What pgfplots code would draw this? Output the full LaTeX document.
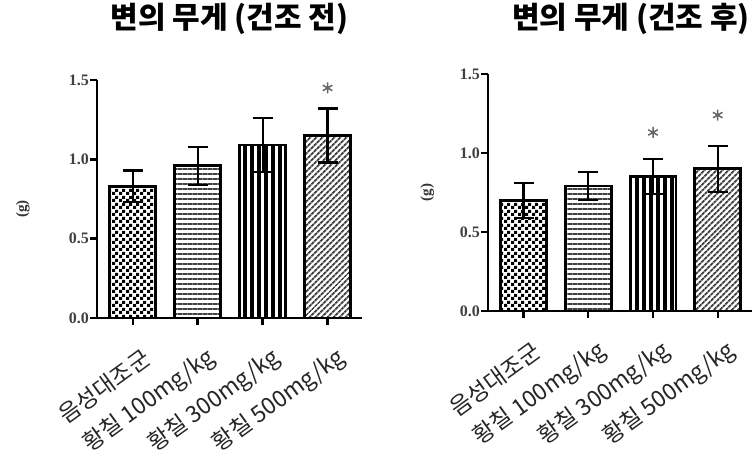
\documentclass[border=0pt]{standalone}
\usepackage{fontspec}
\setmainfont{Liberation Serif}
\newfontfamily\kr{Noto Sans CJK KR}
\usepackage{pgfplots}
\pgfplotsset{compat=1.18}
\usetikzlibrary{patterns,patterns.meta}
\pgfdeclarepatternformonly{mychecker}{\pgfqpoint{0pt}{0pt}}{\pgfqpoint{7pt}{7pt}}{\pgfqpoint{7pt}{7pt}}{%
 \pgfpathrectangle{\pgfqpoint{0pt}{0pt}}{\pgfqpoint{3.5pt}{3.5pt}}%
 \pgfpathrectangle{\pgfqpoint{3.5pt}{3.5pt}}{\pgfqpoint{3.5pt}{3.5pt}}%
 \pgfusepath{fill}}
\pgfplotsset{
  mybar/.style={ybar, bar width=46pt, bar shift=0pt, draw=black, line width=2.6pt,
    error bars/y dir=both, error bars/y explicit,
    error bars/error bar style={line width=2.2pt, black},
    error bars/error mark options={rotate=90, mark size=10pt, line width=2.2pt, black}},
  star/.style={only marks, mark=asterisk, mark size=5.5pt, color=black!60, mark options={line width=1.5pt}},
  myaxis/.style={
    scale only axis, anchor=south west,
    axis lines=left, axis line style={line width=2.8pt, -},
    ymin=0, ymax=1.5, xmin=-0.55, xmax=3.53,
    ytick={0,0.5,1,1.5}, xtick={0,1,2,3},
    tick align=outside, major tick length=7pt,
    every tick/.style={line width=2.4pt, black},
    yticklabel style={/pgf/number format/fixed, /pgf/number format/fixed zerofill, /pgf/number format/precision=1, font=\fontsize{16}{16}\selectfont\bfseries, text=black!75, inner sep=1pt},
    /pgf/number format/assume math mode=true,
    xticklabels={음성대조군, 황칠 100mg/kg, 황칠 300mg/kg, 황칠 500mg/kg},
    xticklabel style={rotate=36, anchor=east, font=\kr\fontsize{23}{23}\selectfont, text=black!85, inner sep=0pt, yshift=-33pt, xshift=-6pt},
    ylabel={(g)}, ylabel style={font=\fontsize{15}{15}\selectfont\bfseries, text=black!80, anchor=center},
    title style={font=\kr\bfseries\fontsize{30}{30}\selectfont, anchor=center},
    clip=false,
  }
}
\begin{document}
\begin{tikzpicture}[x=1pt,y=1pt]
\useasboundingbox (0,0) rectangle (752,454);
\begin{axis}[myaxis, at={(97pt,136pt)}, width=265pt, height=238pt, title={변의 무게 (건조 전)},
  title style={at={(axis description cs:0.5,1)}, yshift=55pt},
  ylabel style={at={(axis description cs:-0.28,0.5)}, xshift=-10pt}]
\addplot[mybar, pattern=mychecker] coordinates {(0,0.83) +- (0,0.10)};
\addplot[mybar, pattern={Lines[angle=0,distance=5pt,line width=2.2pt]}, pattern color=black!75] coordinates {(1,0.96) +- (0,0.12)};
\addplot[mybar, pattern={Lines[angle=90,distance=7pt,line width=4.6pt]}, pattern color=black] coordinates {(2,1.09) +- (0,0.17)};
\addplot[mybar, pattern={Lines[angle=45,distance=4pt,line width=2pt]}, pattern color=black!75] coordinates {(3,1.15) +- (0,0.17)};
\addplot[star] coordinates {(3,1.45)};
\end{axis}
\begin{axis}[myaxis, at={(488pt,143pt)}, width=264pt, height=237pt, title={변의 무게 (건조 후)},
  title style={at={(axis description cs:0.5,1)}, yshift=49pt, xshift=11pt},
  ylabel style={at={(axis description cs:-0.23,0.5)}}]
\addplot[mybar, pattern=mychecker] coordinates {(0,0.70) +- (0,0.11)};
\addplot[mybar, pattern={Lines[angle=0,distance=5pt,line width=2.2pt]}, pattern color=black!75] coordinates {(1,0.79) +- (0,0.09)};
\addplot[mybar, pattern={Lines[angle=90,distance=7pt,line width=4.6pt]}, pattern color=black] coordinates {(2,0.85) +- (0,0.11)};
\addplot[mybar, pattern={Lines[angle=45,distance=4pt,line width=2pt]}, pattern color=black!75] coordinates {(3,0.90) +- (0,0.145)};
\addplot[star] coordinates {(2,1.13) (3,1.24)};
\end{axis}
\end{tikzpicture}
\end{document}
